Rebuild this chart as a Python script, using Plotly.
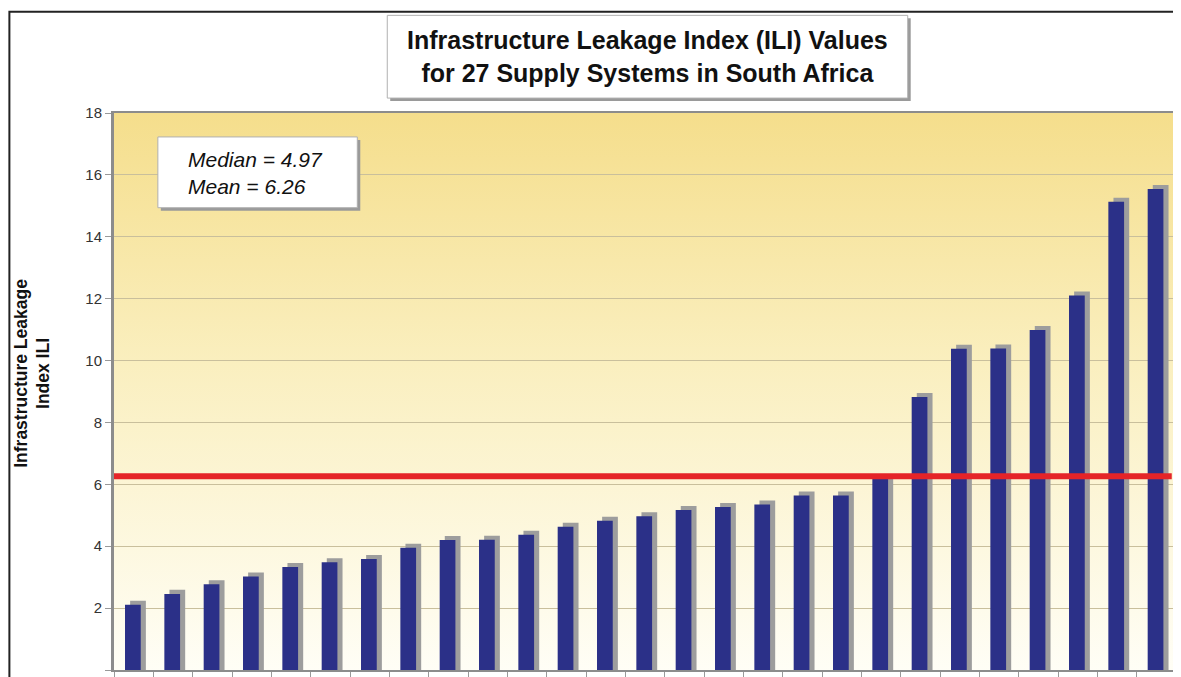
import base64
import plotly.graph_objects as go

# ILI per supply system, sorted ascending
systems = list(range(1, 28))
ili_values = [2.11, 2.46, 2.77, 3.02, 3.33, 3.48, 3.59, 3.95, 4.20, 4.21,
              4.37, 4.63, 4.82, 4.97, 5.17, 5.27, 5.35, 5.64, 5.64, 6.17,
              8.82, 10.38, 10.39, 10.99, 12.10, 15.13, 15.54]
median_ili = 4.97
mean_ili = 6.26
y_ticks = [0, 2, 4, 6, 8, 10, 12, 14, 16, 18]

title_txt = "<b>Infrastructure Leakage Index (ILI) Values<br>for 27 Supply Systems in South Africa</b>"
stats_txt = "<i>Median = %.2f<br>Mean = %.2f</i>" % (median_ili, mean_ili)
ytitle_txt = "<b>Infrastructure Leakage<br>Index ILI</b>"

# yellow -> cream gradient for the plot background
svg = ('<svg xmlns="http://www.w3.org/2000/svg" width="10" height="100" preserveAspectRatio="none">'
       '<defs><linearGradient id="g" x1="0" y1="0" x2="0" y2="1">'
       '<stop offset="0" stop-color="#f5de8c"/><stop offset="0.45" stop-color="#faefbf"/>'
       '<stop offset="1" stop-color="#fffef6"/></linearGradient></defs>'
       '<rect width="10" height="100" fill="url(#g)"/></svg>')
bg_uri = "data:image/svg+xml;base64," + base64.b64encode(svg.encode()).decode()

fig = go.Figure()

# grey drop shadow behind each bar
fig.add_trace(go.Bar(x=systems, y=[v + 0.13 for v in ili_values], width=0.40, offset=-0.09,
                     marker=dict(color="#9d9d9d", line=dict(width=0)), hoverinfo="skip"))
fig.add_trace(go.Bar(x=systems, y=ili_values, width=0.40, offset=-0.22,
                     marker=dict(color="#2b3088", line=dict(width=0))))

# page body has an 8px margin, so the figure is 8px smaller on each side
fig.update_layout(
    width=1173, height=669,
    barmode="overlay",
    showlegend=False,
    paper_bgcolor="white",
    plot_bgcolor="rgba(0,0,0,0)",
    margin=dict(l=106, r=2, t=105, b=5),
    font=dict(family="Liberation Sans, Arial, sans-serif", color="#222"),
    images=[dict(source=bg_uri, xref="paper", yref="paper", x=0, y=1, sizex=1, sizey=1,
                 sizing="stretch", layer="below", xanchor="left", yanchor="top")],
)
fig.update_xaxes(type="category", showticklabels=False, ticks="outside", tickson="boundaries",
                 ticklen=5, tickcolor="#999", showgrid=False, showline=True, linecolor="#8c8c8c",
                 linewidth=2, mirror=True, range=[-0.5, 26.5])
fig.update_yaxes(range=[0, 18], tickvals=y_ticks, ticks="outside", ticklen=6, tickcolor="#999",
                 tickfont=dict(size=15, color="#333"), gridcolor="#c9bf9c", gridwidth=1,
                 showline=True, linecolor="#8c8c8c", linewidth=3, mirror=True, zeroline=False)

shapes = [
    # mean line
    dict(type="line", xref="paper", yref="y", x0=0, x1=0.996, y0=mean_ili, y1=mean_ili,
         line=dict(color="#e52428", width=6)),
    # outer frame of the page
    dict(type="rect", xref="paper", yref="paper", x0=-0.0985, x1=1.05, y0=-0.05, y1=1.182,
         line=dict(color="#222", width=2), layer="below"),
    # title box shadow + box
    dict(type="rect", xref="paper", yref="paper", x0=0.2601, x1=0.7502, y0=1.0215, y1=1.1700,
         fillcolor="#9a9a9a", line=dict(width=0)),
    dict(type="rect", xref="paper", yref="paper", x0=0.2573, x1=0.7474, y0=1.0268, y1=1.1753,
         fillcolor="white", line=dict(color="#b0b0b0", width=1)),
    # stats box shadow + box
    dict(type="rect", xref="paper", yref="paper", x0=0.0441, x1=0.2319, y0=0.8247, y1=0.9517,
         fillcolor="#9a9a9a", line=dict(width=0)),
    dict(type="rect", xref="paper", yref="paper", x0=0.0413, x1=0.2291, y0=0.8300, y1=0.9570,
         fillcolor="white", line=dict(color="#b0b0b0", width=1)),
]
fig.update_layout(shapes=shapes)

fig.add_annotation(text=title_txt, xref="paper", yref="paper", x=0.5023, y=1.101,
                   xanchor="center", yanchor="middle", showarrow=False,
                   font=dict(size=25, color="#111"), align="center")
fig.add_annotation(text=stats_txt, xref="paper", yref="paper", x=0.0676, y=0.893,
                   xanchor="left", yanchor="middle", showarrow=False,
                   font=dict(size=21, color="#111"), align="left")
fig.add_annotation(text=ytitle_txt, xref="paper", yref="paper", x=-0.0775, y=0.533,
                   xanchor="center", yanchor="middle", textangle=-90, showarrow=False,
                   font=dict(size=17.5, color="#111"), align="center")

fig.write_html("out.html")
